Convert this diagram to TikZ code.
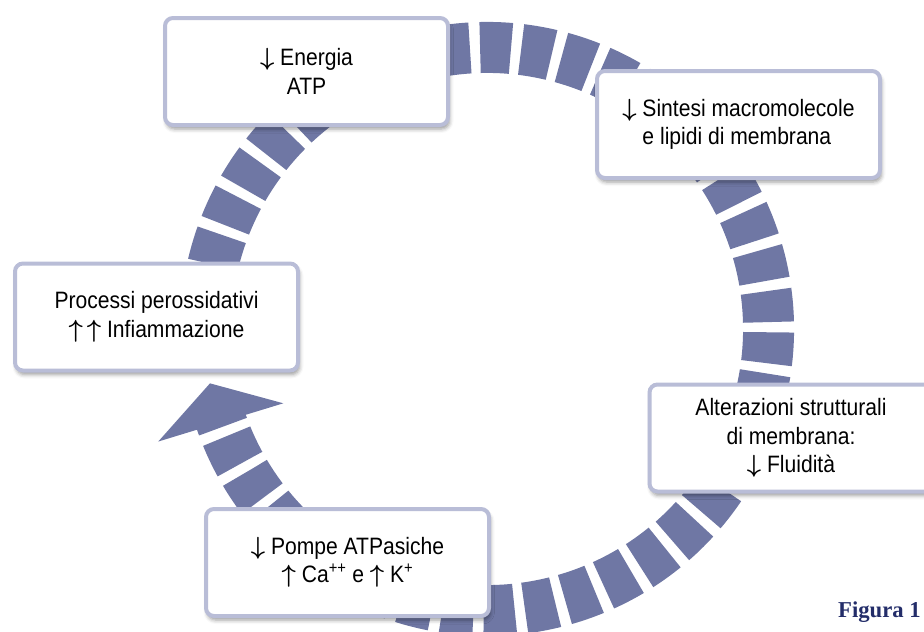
\documentclass[tikz,border=0pt]{standalone}
\usepackage{fontspec}
\setmainfont{Liberation Sans}[FakeStretch=0.89]
\newfontfamily\figfont{Liberation Serif}
\usepackage{xcolor}
\usetikzlibrary{positioning,calc,shadows.blur}
\definecolor{ringblue}{RGB}{111,119,164}
\definecolor{boxline}{RGB}{185,189,215}
\definecolor{figblue}{RGB}{35,45,105}
\newcommand{\dnarr}{{\boldmath$\downarrow$}}
\newcommand{\uparr}{{\boldmath$\uparrow$}}

\begin{document}
\begin{tikzpicture}[x=1pt, y=-1pt,
  cyclebox/.style={draw=boxline, line width=4pt, rounded corners=8pt, fill=white,
                   minimum width=283pt, minimum height=107pt, inner sep=0pt,
                   align=center, font=\fontsize{23.7}{28.5}\selectfont,
                   blur shadow={shadow xshift=1.5pt, shadow yshift=-4pt, shadow blur radius=4pt}},
  ringseg/.style={draw=ringblue, line width=51pt,
                  dash pattern=on 30.95pt off 10.18pt, dash phase=14.75pt},
  figlabel/.style={font=\figfont\bfseries\fontsize{22.7}{27}\selectfont, text=figblue,
                   anchor=base west, inner sep=0pt},
]
\useasboundingbox (0,0) rectangle (924,632);
\clip (0,0) rectangle (924,632);

% --- dashed cycle ring with its arrow head ---
\coordinate (c) at (487,329);
\draw[ringseg] (c) ++(163:281.5) arc[start angle=163, end angle=-185, radius=281.5];
\fill[ringblue] ($(c)+(168.9:282.3)$) -- ($(c)+(161.1:347.5)$) -- ($(c)+(159.96:216.8)$) -- cycle;

% --- stages of the cycle ---
\node[cyclebox] (energia) at (306.5,71.5) {\dnarr{} Energia\\ATP};
\node[cyclebox, align=left] (sintesi) at (738.5,124.5)
  {\dnarr{} Sintesi macromolecole\\\phantom{\dnarr{} }e lipidi di membrana};
\node[cyclebox] (alterazioni) at (791,438)
  {Alterazioni strutturali\\di membrana:\\\dnarr{} Fluidità};
\node[cyclebox] (pompe) at (347.5,562.5)
  {\dnarr{} Pompe ATPasiche\\\uparr{} Ca\textsuperscript{++} e \uparr{} K\textsuperscript{+}};
\node[cyclebox] (processi) at (156.5,317)
  {Processi perossidativi\\\uparr\,\uparr{} Infiammazione};

\node[figlabel] (figura) at (838,617) {Figura 1};
\end{tikzpicture}
\end{document}
